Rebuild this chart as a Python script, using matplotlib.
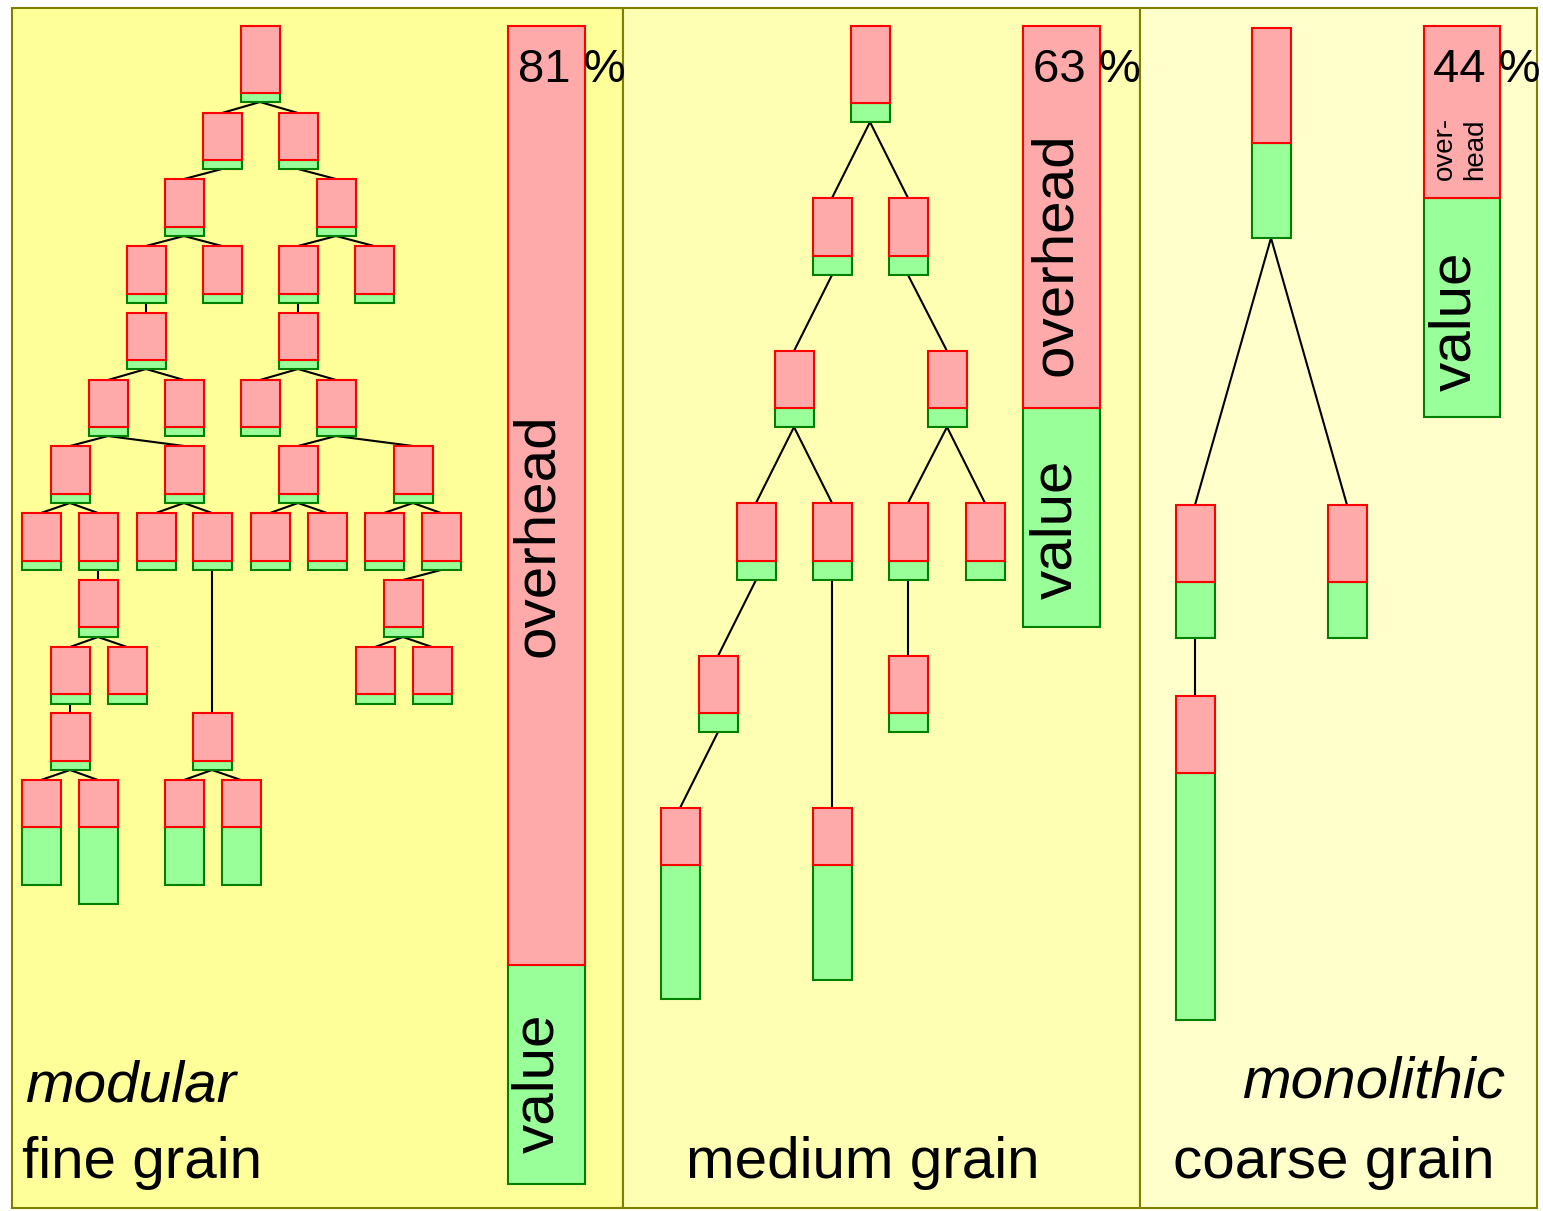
import matplotlib
matplotlib.use("Agg")
import matplotlib.pyplot as plt
from matplotlib.patches import Rectangle

plt.rcParams['font.family'] = ['Liberation Sans', 'DejaVu Sans']

# canvas in pixel units
W, H = 1543, 1211

# panels: left edge, right edge, background
panel_edges = [12, 623, 1140, 1537]
panel_colors = ["#FFFF99", "#FFFFB3", "#FFFFCC"]
panel_top, panel_bottom = 8, 1208

# tree nodes: (center x, top y, overhead height, value height)
fine_nodes = [
    (260, 26, 67, 9),
    (222, 113, 47, 9), (298, 113, 47, 9),
    (184, 179, 48, 9), (336, 179, 48, 9),
    (146, 246, 48, 9), (222, 246, 48, 9), (298, 246, 48, 9), (374, 246, 48, 9),
    (146, 313, 47, 9), (298, 313, 47, 9),
    (108, 380, 47, 9), (184, 380, 47, 9), (260, 380, 47, 9), (336, 380, 47, 9),
    (70, 446, 48, 9), (184, 446, 48, 9), (298, 446, 48, 9), (413, 446, 48, 9),
    (41, 513, 48, 9), (98, 513, 48, 9), (156, 513, 48, 9), (212, 513, 48, 9),
    (270, 513, 48, 9), (327, 513, 48, 9), (384, 513, 48, 9), (441, 513, 48, 9),
    (98, 580, 47, 10), (403, 580, 47, 10),
    (70, 647, 47, 10), (127, 647, 47, 10), (375, 647, 47, 10), (432, 647, 47, 10),
    (70, 713, 48, 9), (212, 713, 48, 9),
    (41, 780, 47, 58), (98, 780, 47, 77), (184, 780, 47, 58), (241, 780, 47, 58),
]
fine_edges = [
    (0, 1), (0, 2), (1, 3), (2, 4), (3, 5), (3, 6), (4, 7), (4, 8),
    (5, 9), (7, 10), (9, 11), (9, 12), (10, 13), (10, 14),
    (11, 15), (11, 16), (14, 17), (14, 18),
    (15, 19), (15, 20), (16, 21), (16, 22), (17, 23), (17, 24), (18, 25), (18, 26),
    (20, 27), (22, 34), (26, 28), (27, 29), (27, 30), (28, 31), (28, 32),
    (29, 33), (33, 35), (33, 36), (34, 37), (34, 38),
]

medium_nodes = [
    (870, 26, 77, 19),
    (832, 198, 58, 19), (908, 198, 58, 19),
    (794, 351, 57, 19), (947, 351, 57, 19),
    (756, 503, 58, 19), (832, 503, 58, 19), (908, 503, 58, 19), (985, 503, 58, 19),
    (718, 656, 57, 19), (908, 656, 57, 19),
    (680, 808, 57, 134), (832, 808, 57, 115),
]
medium_edges = [(0, 1), (0, 2), (1, 3), (2, 4), (3, 5), (3, 6), (4, 7), (4, 8),
                (5, 9), (6, 12), (7, 10), (9, 11)]

coarse_nodes = [
    (1271, 28, 115, 95),
    (1195, 505, 77, 56), (1347, 505, 77, 56),
    (1195, 696, 77, 247),
]
coarse_edges = [(0, 1), (0, 2), (1, 3)]

node_width = 39

# summary bars: x0, x1, top, overhead height, value height
bar_x0 = [508, 1023, 1424]
bar_x1 = [585, 1100, 1500]
bar_top = [26, 26, 26]
bar_overhead = [939, 382, 172]
bar_value = [219, 219, 219]
overhead_pct = [81, 63, 44]

PINK, RED = "#FFAAAA", "#FF0000"
LGREEN, DGREEN = "#99FF99", "#008000"

fig = plt.figure(figsize=(W / 100, H / 100), dpi=100)
ax = fig.add_axes([0, 0, 1, 1])
ax.set_xlim(0, W)
ax.set_ylim(H, 0)
ax.axis("off")

# panel backgrounds and frames
for i in range(3):
    ax.add_patch(Rectangle((panel_edges[i], panel_top), panel_edges[i + 1] - panel_edges[i],
                           panel_bottom - panel_top, facecolor=panel_colors[i],
                           edgecolor="#808000", linewidth=1.5, zorder=0))


def stacked(x0, top, w, over, val):
    ax.add_patch(Rectangle((x0, top + over), w, val, facecolor=LGREEN,
                           edgecolor=DGREEN, linewidth=1.5, zorder=3))
    ax.add_patch(Rectangle((x0, top), w, over, facecolor=PINK,
                           edgecolor=RED, linewidth=1.5, zorder=4))


def draw_tree(nodes, edges):
    for p, c in edges:
        px, pt, po, pv = nodes[p]
        cx, ct, co, cv = nodes[c]
        ax.plot([px, cx], [pt + po + pv, ct], color="black", linewidth=1.5, zorder=2)
    for cx, top, over, val in nodes:
        stacked(cx - node_width / 2, top, node_width, over, val)


draw_tree(fine_nodes, fine_edges)
draw_tree(medium_nodes, medium_edges)
draw_tree(coarse_nodes, coarse_edges)

for i in range(3):
    stacked(bar_x0[i], bar_top[i], bar_x1[i] - bar_x0[i], bar_overhead[i], bar_value[i])

# percentage labels
pct_x = [518, 1033, 1433]
for i in range(3):
    ax.text(pct_x[i], 82, f"{overhead_pct[i]} %", fontsize=34, ha="left",
            va="baseline", zorder=6)

# labels inside the bars
big = 42
ax.text(538, 535, "overhead", rotation=90, fontsize=big, ha="center", va="center", zorder=6)
ax.text(538, 1083, "value", rotation=90, fontsize=big, ha="center", va="center", zorder=6)
ax.text(1056, 254, "overhead", rotation=90, fontsize=big, ha="center", va="center", zorder=6)
ax.text(1056, 529, "value", rotation=90, fontsize=big, ha="center", va="center", zorder=6)
ax.text(1460, 148, "over-\nhead", rotation=90, fontsize=20, ha="center", va="center",
        multialignment="left", linespacing=1.25, zorder=6)
ax.text(1455, 321, "value", rotation=90, fontsize=big, ha="center", va="center", zorder=6)

# panel captions
ax.text(25, 1101, "modular", fontsize=big, style="italic", ha="left", va="baseline")
ax.text(22, 1178, "fine grain", fontsize=big, ha="left", va="baseline")
ax.text(863, 1178, "medium grain", fontsize=big, ha="center", va="baseline")
ax.text(1505, 1098, "monolithic", fontsize=big, style="italic", ha="right", va="baseline")
ax.text(1334, 1178, "coarse grain", fontsize=big, ha="center", va="baseline")

fig.savefig("out.png", dpi=100)
